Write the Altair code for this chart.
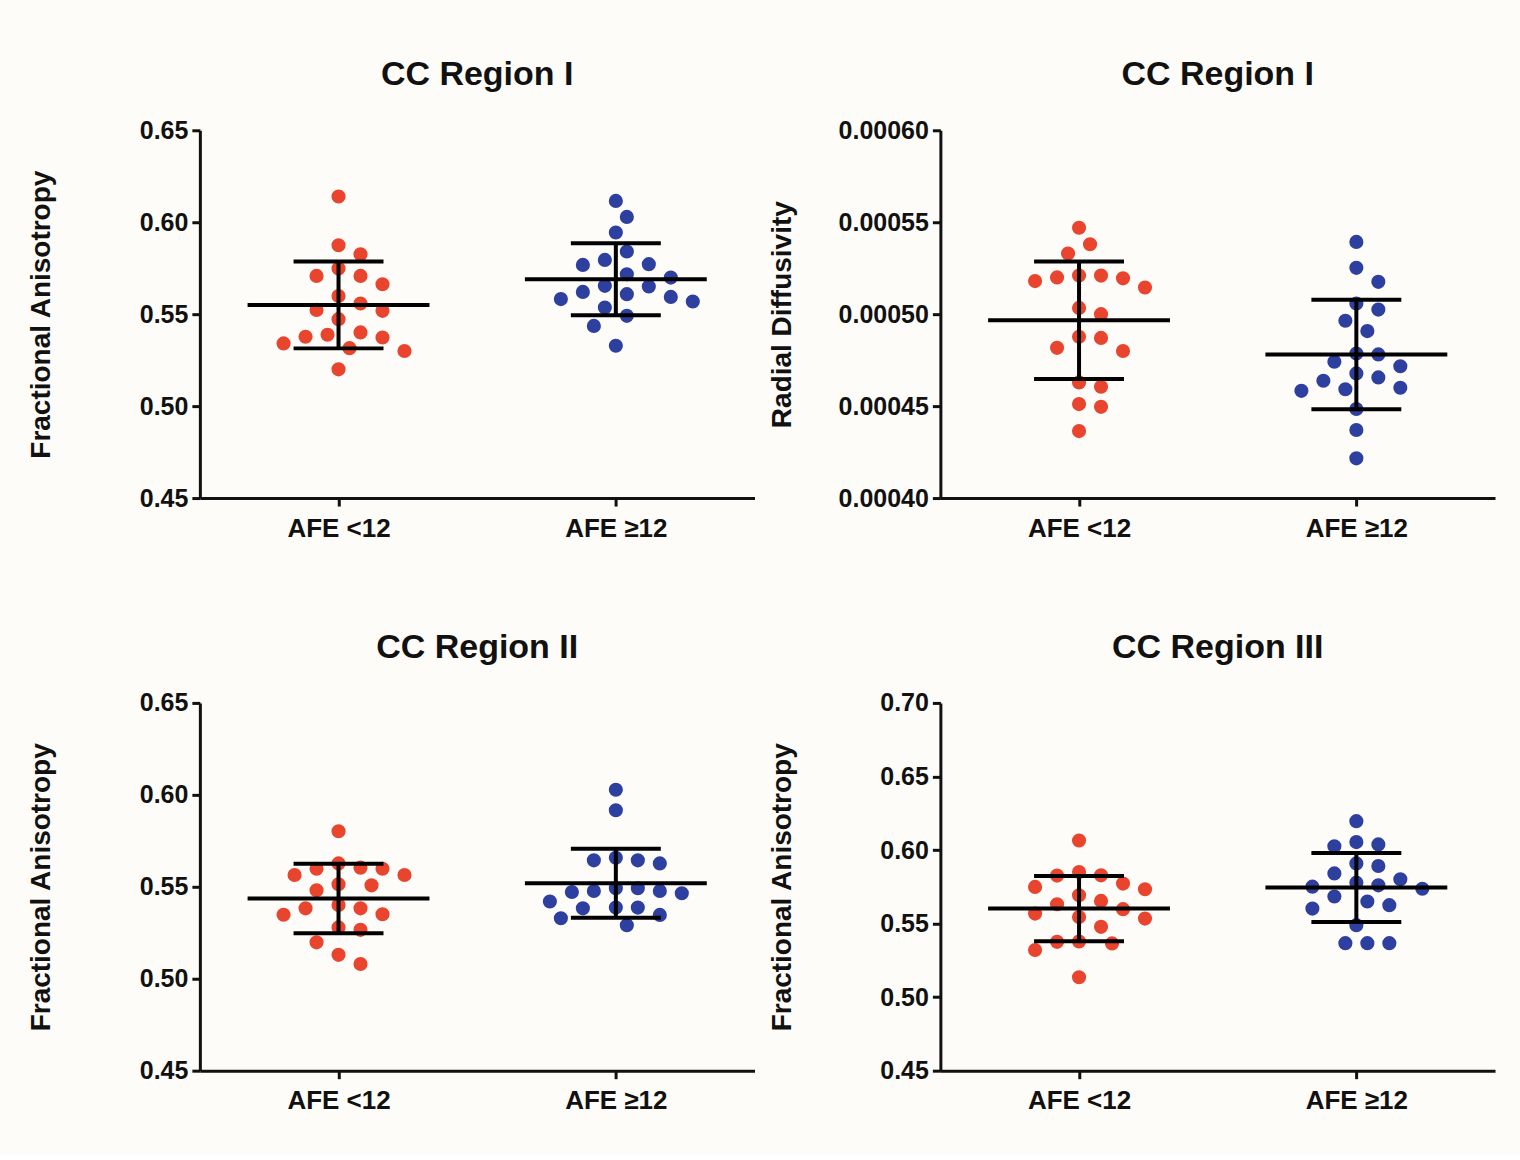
import altair as alt
import pandas as pd

# ---------------- data ----------------
groups = ["AFE <12", "AFE ≥12"]

fa1_lt = [0.614, 0.5875, 0.5826, 0.5748, 0.5708, 0.5708, 0.5663, 0.5599, 0.5558, 0.5523,
          0.5518, 0.5473, 0.5388, 0.5373, 0.5377, 0.5401, 0.5315, 0.5341, 0.530, 0.520]
fa1_ge = [0.6116, 0.6029, 0.5944, 0.5841, 0.5795, 0.5772, 0.5768, 0.5699, 0.5717, 0.5651,
          0.5654, 0.5609, 0.5621, 0.5582, 0.5594, 0.5569, 0.5536, 0.5491, 0.5436, 0.5328]
rd1_lt = [0.000547, 0.000538, 0.000533, 0.000521, 0.000520, 0.000518, 0.0005145, 0.0005195,
          0.000521, 0.0005034, 0.0005, 0.0004877, 0.0004871, 0.0004817, 0.00048, 0.0004629,
          0.0004605, 0.0004511, 0.0004496, 0.0004364]
rd1_ge = [0.0005393, 0.0005252, 0.0005176, 0.0005025, 0.0005058, 0.0004964, 0.0004908,
          0.0004786, 0.0004781, 0.0004741, 0.0004717, 0.0004678, 0.0004656, 0.0004638,
          0.00046, 0.0004583, 0.0004592, 0.0004484, 0.000437, 0.0004216]
fa2_lt = [0.5802, 0.5627, 0.5604, 0.5598, 0.5598, 0.5564, 0.5564, 0.5514, 0.5508, 0.5481,
          0.5401, 0.5383, 0.5383, 0.5351, 0.5348, 0.5279, 0.5266, 0.5198, 0.513, 0.508]
fa2_ge = [0.6028, 0.5916, 0.5644, 0.5627, 0.5644, 0.5658, 0.5492, 0.5477, 0.5472, 0.5492,
          0.5465, 0.5477, 0.542, 0.5387, 0.5387, 0.5383, 0.5347, 0.5329, 0.5291]
fa3_lt = [0.6065, 0.585, 0.5828, 0.5826, 0.5749, 0.5772, 0.5733, 0.5692, 0.5654, 0.5598,
          0.5631, 0.5545, 0.5534, 0.5568, 0.5478, 0.5376, 0.5365, 0.532, 0.5378, 0.5135]
fa3_ge = [0.6196, 0.6054, 0.6026, 0.6038, 0.5841, 0.5909, 0.5891, 0.5778, 0.5751, 0.576,
          0.5801, 0.5737, 0.5684, 0.5625, 0.5602, 0.565, 0.5489, 0.5367, 0.5367, 0.5367]

# mean and SD shown by the error bars
fa1_mean, fa1_sd = [0.555, 0.569], [0.0236, 0.0196]
rd1_mean, rd1_sd = [0.0004967, 0.0004781], [0.000032, 0.0000298]
fa2_mean, fa2_sd = [0.5436, 0.5519], [0.0189, 0.0188]
fa3_mean, fa3_sd = [0.5602, 0.5745], [0.0222, 0.0235]

fa_ticks = [0.45, 0.50, 0.55, 0.60, 0.65]
rd_ticks = [0.00040, 0.00045, 0.00050, 0.00055, 0.00060]
fa3_ticks = [0.45, 0.50, 0.55, 0.60, 0.65, 0.70]

# ---------------- styling ----------------
W, H = 555, 368
RED, BLUE = "#e9442e", "#2d3f9f"
BG = "#fdfcf9"
FONT = "Liberation Sans"
centers = [0.5, 1.5]


def swarm(vals, ppu, h=11.0, d=19.0):
    """Simple beeswarm: horizontal pixel offsets so dots don't overlap."""
    order = sorted(range(len(vals)), key=lambda i: -vals[i])
    placed, offs = [], [0.0] * len(vals)
    cands = [0.0] + [s * j * h for j in range(1, 30) for s in (1, -1)]
    for i in order:
        y = vals[i] * ppu
        for c in cands:
            if all((c - px) ** 2 + (y - py) ** 2 >= d * d for px, py in placed):
                break
        placed.append((c, y))
        offs[i] = c
    return offs


def px2x(px):
    return px / W * 2.0


def panel(title, ytitle, lt, ge, means, sds, ticks, fmt):
    lo, hi = ticks[0], ticks[-1]
    ppu = H / (hi - lo)
    rows = []
    for g, vals in enumerate([lt, ge]):
        offs = swarm(vals, ppu)
        for v, o in zip(vals, offs):
            rows.append({"x": centers[g] + px2x(o), "y": v, "grp": groups[g]})
    pts = pd.DataFrame(rows)

    rules = []
    for g in range(2):
        c, m, s = centers[g], means[g], sds[g]
        rules.append({"x": c - px2x(91), "x2": c + px2x(91), "y": m, "y2": m})
        rules.append({"x": c - px2x(45), "x2": c + px2x(45), "y": m + s, "y2": m + s})
        rules.append({"x": c - px2x(45), "x2": c + px2x(45), "y": m - s, "y2": m - s})
        rules.append({"x": c, "x2": c, "y": m - s, "y2": m + s})
    rdf = pd.DataFrame(rules)

    xsc = alt.Scale(domain=[0, 2], nice=False, zero=False)
    ysc = alt.Scale(domain=[lo, hi], nice=False, zero=False)
    xax = alt.Axis(values=centers, title=None, grid=False,
                   labelExpr="datum.value < 1 ? 'AFE <12' : 'AFE ≥12'",
                   labelFontSize=26, labelPadding=9)
    yax = alt.Axis(values=ticks, format=fmt, title=ytitle, grid=False,
                   titleX=-158, titleY=H / 2, titleBaseline="middle",
                   titleAngle=270, titleAlign="center")

    points = alt.Chart(pts).mark_circle(size=200, opacity=1).encode(
        x=alt.X("x:Q", scale=xsc, axis=xax),
        y=alt.Y("y:Q", scale=ysc, axis=yax),
        color=alt.Color("grp:N", scale=alt.Scale(domain=groups, range=[RED, BLUE]), legend=None),
    )
    lines = alt.Chart(rdf).mark_rule(color="black", strokeWidth=4, strokeCap="butt").encode(
        x=alt.X("x:Q", scale=xsc),
        x2="x2:Q",
        y=alt.Y("y:Q", scale=ysc),
        y2="y2:Q",
    )
    return alt.layer(points, lines).properties(
        width=W, height=H,
        title=alt.TitleParams(title, fontSize=34, font=FONT, fontWeight="bold",
                              color="#111111", anchor="middle", offset=26),
    )


p1 = panel("CC Region I", "Fractional Anisotropy", fa1_lt, fa1_ge, fa1_mean, fa1_sd, fa_ticks, ".2f")
p2 = panel("CC Region I", "Radial Diffusivity", rd1_lt, rd1_ge, rd1_mean, rd1_sd, rd_ticks, ".5f")
p3 = panel("CC Region II", "Fractional Anisotropy", fa2_lt, fa2_ge, fa2_mean, fa2_sd, fa_ticks, ".2f")
p4 = panel("CC Region III", "Fractional Anisotropy", fa3_lt, fa3_ge, fa3_mean, fa3_sd, fa3_ticks, ".2f")

top = alt.hconcat(p1, p2, spacing=14)
bottom = alt.hconcat(p3, p4, spacing=14)

chart = alt.vconcat(top, bottom, spacing=90).properties(
    background=BG,
    padding={"left": 28, "top": 58, "right": 25, "bottom": 40},
).configure_view(stroke=None).configure_axis(
    domainColor="#111111", domainWidth=3, tickColor="#111111", tickWidth=3, tickSize=8,
    labelFont=FONT, labelFontWeight="bold", labelFontSize=25, labelColor="#111111",
    labelPadding=4, titleFont=FONT, titleFontWeight="bold", titleFontSize=28,
    titleColor="#111111",
).configure_concat(spacing=14)

chart.save("out.html", embed_options={"renderer": "svg", "actions": False})
